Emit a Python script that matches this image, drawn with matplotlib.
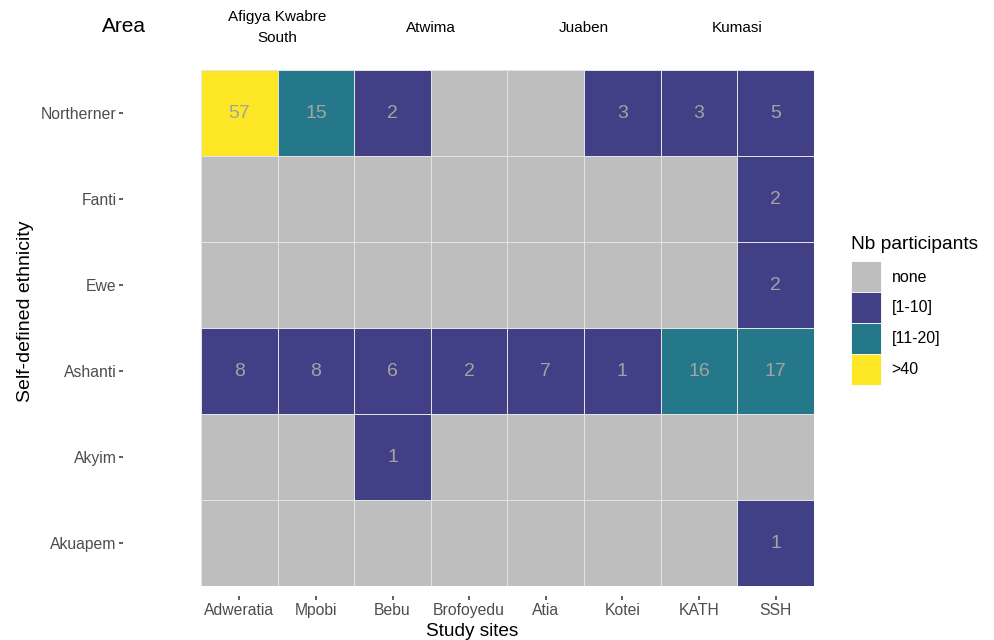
import matplotlib
matplotlib.use("Agg")
import matplotlib.pyplot as plt
from matplotlib.colors import ListedColormap, BoundaryNorm
from matplotlib.patches import Patch
from matplotlib.transforms import blended_transform_factory
import numpy as np

plt.rcParams['font.family'] = ['Liberation Sans', 'DejaVu Sans']

sites = ["Adweratia", "Mpobi", "Bebu", "Brofoyedu", "Atia", "Kotei", "KATH", "SSH"]
ethnicities = ["Northerner", "Fanti", "Ewe", "Ashanti", "Akyim", "Akuapem"]
areas = ["Afigya Kwabre\nSouth", "Atwima", "Juaben", "Kumasi"]
area_sites = [["Adweratia", "Mpobi"], ["Bebu", "Brofoyedu"], ["Atia", "Kotei"], ["KATH", "SSH"]]

counts = [
    [57, 15, 2, 0, 0, 3, 3, 5],   # Northerner
    [0, 0, 0, 0, 0, 0, 0, 2],     # Fanti
    [0, 0, 0, 0, 0, 0, 0, 2],     # Ewe
    [8, 8, 6, 2, 7, 1, 16, 17],   # Ashanti
    [0, 0, 1, 0, 0, 0, 0, 0],     # Akyim
    [0, 0, 0, 0, 0, 0, 0, 1],     # Akuapem
]
class_labels = ["none", "[1-10]", "[11-20]", ">40"]
class_colors = ["#BEBEBE", "#413F86", "#25788A", "#FDE725"]

def classify(v):
    if v == 0:
        return 0
    if v <= 10:
        return 1
    if v <= 20:
        return 2
    return 3

data = np.array(counts)
cls = np.vectorize(classify)(data)

W, H = 995, 640
fig = plt.figure(figsize=(W / 100, H / 100), dpi=100)
ax_l, ax_r, ax_t, ax_b = 201, 814, 70, 586
ax = fig.add_axes([ax_l / W, 1 - ax_b / H, (ax_r - ax_l) / W, (ax_b - ax_t) / H])

cmap = ListedColormap(class_colors)
norm = BoundaryNorm([-0.5, 0.5, 1.5, 2.5, 3.5], cmap.N)
nrow, ncol = cls.shape
ax.pcolormesh(np.arange(ncol + 1) - 0.5, np.arange(nrow + 1) - 0.5, cls,
              cmap=cmap, norm=norm, edgecolors="#E3E3E3", linewidth=0.6)
ax.set_xlim(-0.5, ncol - 0.5)
ax.set_ylim(nrow - 0.5, -0.5)

for i in range(nrow):
    for j in range(ncol):
        if data[i, j] > 0:
            ax.text(j, i, str(data[i, j]), ha="center", va="center",
                    fontsize=14, color="#A3A3A3")

ax.set_xticks(range(ncol))
ax.set_xticklabels(sites)
ax.set_yticks(range(nrow))
ax.set_yticklabels(ethnicities)
for s in ax.spines.values():
    s.set_visible(False)
ax.spines['left'].set_position(('outward', 56))
ax.spines['bottom'].set_position(('outward', 7))
ax.tick_params(axis="both", length=2.8, width=1.1, color="#333333",
               labelcolor="#4D4D4D", labelsize=11.3)
ax.tick_params(axis="y", pad=1.8)
ax.tick_params(axis="x", pad=2.5)

ax.set_xlabel("Study sites", fontsize=13.7, color="black")
ax.xaxis.set_label_coords((472 - ax_l) / (ax_r - ax_l), (ax_b - 632) / (ax_b - ax_t))
ax.xaxis.label.set_va("center")
ax.set_ylabel("Self-defined ethnicity", fontsize=14, color="black")
ax.yaxis.set_label_coords((25 - ax_l) / (ax_r - ax_l), (ax_b - 311) / (ax_b - ax_t))
ax.yaxis.label.set_va("center")

# Area labels on top
tr = blended_transform_factory(ax.transData, fig.transFigure)
for a, ss in zip(areas, area_sites):
    xc = np.mean([sites.index(s) for s in ss])
    ax.text(xc, 1 - 27.5 / H, a, transform=tr, ha="center", va="center",
            fontsize=11, color="black", linespacing=1.6)
fig.text(124 / W, 1 - 27 / H, "Area", ha="center", va="center",
         fontsize=15, color="black")

# Legend
handles = [Patch(facecolor=c, edgecolor="white", linewidth=0.6) for c in class_colors]
leg = fig.legend(handles, class_labels, loc="upper left",
                 bbox_to_anchor=(851 / W, 1 - 236 / H),
                 frameon=False, title="Nb participants", title_fontsize=13.8,
                 fontsize=11.5, handlelength=1.85, handleheight=2.59,
                 labelspacing=0.0, handletextpad=0.7, borderaxespad=0,
                 borderpad=0)
leg._legend_box.align = "left"
leg._legend_box.sep = 6

fig.savefig("out.png", dpi=100)
